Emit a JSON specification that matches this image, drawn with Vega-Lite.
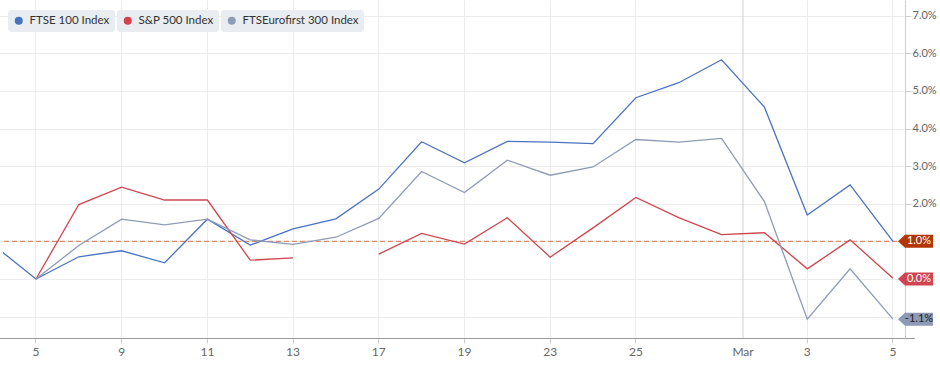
{
  "$schema": "https://vega.github.io/schema/vega-lite/v6.json",
  "autosize": {"type": "none"},
  "padding": {"left": 3, "top": 0, "right": 35, "bottom": 29},
  "width": 902,
  "height": 338,
  "background": "white",
  "config": {
    "view": {"stroke": null},
    "font": "Lato",
    "axis": {"labelFont": "Lato", "labelColor": "#666666"},
    "legend": {"labelFont": "Lato"}
  },
  "datasets": {
    "prices": [
      {"date": "2026-02-04", "series": "FTSE 100 Index", "value": 0.91},
      {"date": "2026-02-05", "series": "FTSE 100 Index", "value": 0.0},
      {"date": "2026-02-06", "series": "FTSE 100 Index", "value": 0.59},
      {"date": "2026-02-09", "series": "FTSE 100 Index", "value": 0.75},
      {"date": "2026-02-10", "series": "FTSE 100 Index", "value": 0.43},
      {"date": "2026-02-11", "series": "FTSE 100 Index", "value": 1.59},
      {"date": "2026-02-12", "series": "FTSE 100 Index", "value": 0.9},
      {"date": "2026-02-13", "series": "FTSE 100 Index", "value": 1.33},
      {"date": "2026-02-16", "series": "FTSE 100 Index", "value": 1.6},
      {"date": "2026-02-17", "series": "FTSE 100 Index", "value": 2.39},
      {"date": "2026-02-18", "series": "FTSE 100 Index", "value": 3.65},
      {"date": "2026-02-19", "series": "FTSE 100 Index", "value": 3.09},
      {"date": "2026-02-20", "series": "FTSE 100 Index", "value": 3.66},
      {"date": "2026-02-23", "series": "FTSE 100 Index", "value": 3.64},
      {"date": "2026-02-24", "series": "FTSE 100 Index", "value": 3.6},
      {"date": "2026-02-25", "series": "FTSE 100 Index", "value": 4.82},
      {"date": "2026-02-26", "series": "FTSE 100 Index", "value": 5.22},
      {"date": "2026-02-27", "series": "FTSE 100 Index", "value": 5.83},
      {"date": "2026-03-02", "series": "FTSE 100 Index", "value": 4.57},
      {"date": "2026-03-03", "series": "FTSE 100 Index", "value": 1.7},
      {"date": "2026-03-04", "series": "FTSE 100 Index", "value": 2.5},
      {"date": "2026-03-05", "series": "FTSE 100 Index", "value": 1.0},
      {"date": "2026-02-05", "series": "S&P 500 Index", "value": 0.0},
      {"date": "2026-02-06", "series": "S&P 500 Index", "value": 1.98},
      {"date": "2026-02-09", "series": "S&P 500 Index", "value": 2.44},
      {"date": "2026-02-10", "series": "S&P 500 Index", "value": 2.1},
      {"date": "2026-02-11", "series": "S&P 500 Index", "value": 2.1},
      {"date": "2026-02-12", "series": "S&P 500 Index", "value": 0.5},
      {"date": "2026-02-13", "series": "S&P 500 Index", "value": 0.56},
      {"date": "2026-02-16", "series": "S&P 500 Index", "value": null},
      {"date": "2026-02-17", "series": "S&P 500 Index", "value": 0.66},
      {"date": "2026-02-18", "series": "S&P 500 Index", "value": 1.21},
      {"date": "2026-02-19", "series": "S&P 500 Index", "value": 0.93},
      {"date": "2026-02-20", "series": "S&P 500 Index", "value": 1.63},
      {"date": "2026-02-23", "series": "S&P 500 Index", "value": 0.58},
      {"date": "2026-02-24", "series": "S&P 500 Index", "value": 1.36},
      {"date": "2026-02-25", "series": "S&P 500 Index", "value": 2.17},
      {"date": "2026-02-26", "series": "S&P 500 Index", "value": 1.63},
      {"date": "2026-02-27", "series": "S&P 500 Index", "value": 1.18},
      {"date": "2026-03-02", "series": "S&P 500 Index", "value": 1.23},
      {"date": "2026-03-03", "series": "S&P 500 Index", "value": 0.27},
      {"date": "2026-03-04", "series": "S&P 500 Index", "value": 1.04},
      {"date": "2026-03-05", "series": "S&P 500 Index", "value": 0.02},
      {"date": "2026-02-05", "series": "FTSEurofirst 300 Index", "value": 0.0},
      {"date": "2026-02-06", "series": "FTSEurofirst 300 Index", "value": 0.89},
      {"date": "2026-02-09", "series": "FTSEurofirst 300 Index", "value": 1.59},
      {"date": "2026-02-10", "series": "FTSEurofirst 300 Index", "value": 1.44},
      {"date": "2026-02-11", "series": "FTSEurofirst 300 Index", "value": 1.59},
      {"date": "2026-02-12", "series": "FTSEurofirst 300 Index", "value": 1.04},
      {"date": "2026-02-13", "series": "FTSEurofirst 300 Index", "value": 0.92},
      {"date": "2026-02-16", "series": "FTSEurofirst 300 Index", "value": 1.11},
      {"date": "2026-02-17", "series": "FTSEurofirst 300 Index", "value": 1.61},
      {"date": "2026-02-18", "series": "FTSEurofirst 300 Index", "value": 2.86},
      {"date": "2026-02-19", "series": "FTSEurofirst 300 Index", "value": 2.3},
      {"date": "2026-02-20", "series": "FTSEurofirst 300 Index", "value": 3.16},
      {"date": "2026-02-23", "series": "FTSEurofirst 300 Index", "value": 2.76},
      {"date": "2026-02-24", "series": "FTSEurofirst 300 Index", "value": 2.98},
      {"date": "2026-02-25", "series": "FTSEurofirst 300 Index", "value": 3.71},
      {"date": "2026-02-26", "series": "FTSEurofirst 300 Index", "value": 3.64},
      {"date": "2026-02-27", "series": "FTSEurofirst 300 Index", "value": 3.74},
      {"date": "2026-03-02", "series": "FTSEurofirst 300 Index", "value": 2.06},
      {"date": "2026-03-03", "series": "FTSEurofirst 300 Index", "value": -1.07},
      {"date": "2026-03-04", "series": "FTSEurofirst 300 Index", "value": 0.27},
      {"date": "2026-03-05", "series": "FTSEurofirst 300 Index", "value": -1.07}
    ],
    "flags": [
      {"date": "2026-03-05", "series": "FTSE 100 Index", "value": 1.0, "label": "1.0%"},
      {"date": "2026-03-05", "series": "S&P 500 Index", "value": 0.0, "label": "0.0%"},
      {"date": "2026-03-05", "series": "FTSEurofirst 300 Index", "value": -1.07, "label": "-1.1%"}
    ],
    "month": [
      {"date": "2026-03-02", "label": "Mar"}
    ]
  },
  "encoding": {
    "x": {
      "field": "date",
      "type": "ordinal",
      "scale": {
        "type": "band",
        "domain": ["2026-02-04","2026-02-05","2026-02-06","2026-02-09","2026-02-10","2026-02-11","2026-02-12","2026-02-13","2026-02-16","2026-02-17","2026-02-18","2026-02-19","2026-02-20","2026-02-23","2026-02-24","2026-02-25","2026-02-26","2026-02-27","2026-03-02","2026-03-03","2026-03-04","2026-03-05"],
        "range": [-31.3, 911.4],
        "paddingInner": 0,
        "paddingOuter": 0
      },
      "axis": {
        "title": null,
        "values": ["2026-02-05","2026-02-09","2026-02-11","2026-02-13","2026-02-17","2026-02-19","2026-02-23","2026-02-25","2026-03-02","2026-03-03","2026-03-05"],
        "labelExpr": "datum.value == '2026-03-02' ? 'Mar' : '' + toNumber(slice(datum.value, 8))",
        "labelOffset": {"condition": {"test": "datum.value == '2026-03-02'", "value": -21.4}, "value": 0},
        "bandPosition": 0.5,
        "labelAngle": 0,
        "labelFontSize": 12,
        "labelPadding": 3,
        "tickSize": 5,
        "tickColor": "#cccccc",
        "tickOpacity": {"condition": {"test": "datum.value == '2026-03-02'", "value": 0}, "value": 1},
        "domainColor": "#999999",
        "grid": true,
        "gridColor": "#ececec",
        "gridOpacity": {"condition": {"test": "datum.value == '2026-03-02'", "value": 0}, "value": 1},
        "gridWidth": 1
      }
    },
    "y": {
      "field": "value",
      "type": "quantitative",
      "scale": {"domain": [-1.57, 7.42], "nice": false, "zero": false},
      "axis": {
        "title": null,
        "orient": "right",
        "values": [-1, 0, 1, 2, 3, 4, 5, 6, 7],
        "labelExpr": "datum.value <= 1 ? '' : format(datum.value, '.1f') + '%'",
        "labelFontSize": 11,
        "labelPadding": 2,
        "tickSize": 5,
        "tickColor": "#cccccc",
        "domainColor": "#cccccc",
        "grid": true,
        "gridColor": "#ececec",
        "gridWidth": 1
      }
    }
  },
  "layer": [
    {
      "data": {"name": "month"},
      "mark": {"type": "rule", "color": "#cfcfcf", "strokeWidth": 1},
      "encoding": {
        "x": {"field": "date", "type": "ordinal", "bandPosition": 0},
        "y": null
      }
    },
    {
      "data": {"values": [{"value": 1.0}]},
      "mark": {"type": "rule", "color": "#e08a6c", "strokeDash": [5, 3], "strokeWidth": 1.2},
      "encoding": {
        "x": null,
        "y": {"field": "value", "type": "quantitative"}
      }
    },
    {
      "data": {"name": "prices"},
      "transform": [{"filter": "datum.series == 'FTSE 100 Index'"}],
      "mark": {"type": "line", "strokeWidth": 1.3, "clip": true},
      "encoding": {
        "color": {
          "field": "series", "type": "nominal",
          "scale": {"domain": ["FTSE 100 Index"], "range": ["#4a73c2"]},
          "legend": {"orient": "none", "legendX": 5, "legendY": 10, "title": null, "symbolType": "circle", "symbolSize": 64, "symbolFillColor": "#4472c4", "symbolStrokeWidth": 0, "labelFontSize": 11.5, "labelLimit": 300, "labelColor": "#333333", "fillColor": "#e9ecf0", "cornerRadius": 3, "padding": 5, "labelOffset": 5}
        }
      }
    },
    {
      "data": {"name": "prices"},
      "transform": [{"filter": "datum.series == 'S&P 500 Index'"}],
      "mark": {"type": "line", "strokeWidth": 1.3, "clip": true},
      "encoding": {
        "color": {
          "field": "series", "type": "nominal",
          "scale": {"domain": ["S&P 500 Index"], "range": ["#d0454f"]},
          "legend": {"orient": "none", "legendX": 114, "legendY": 10, "title": null, "symbolType": "circle", "symbolSize": 64, "symbolFillColor": "#d3434f", "symbolStrokeWidth": 0, "labelFontSize": 11.5, "labelLimit": 300, "labelColor": "#333333", "fillColor": "#e9ecf0", "cornerRadius": 3, "padding": 5, "labelOffset": 5}
        }
      }
    },
    {
      "data": {"name": "prices"},
      "transform": [{"filter": "datum.series == 'FTSEurofirst 300 Index'"}],
      "mark": {"type": "line", "strokeWidth": 1.3, "clip": true},
      "encoding": {
        "color": {
          "field": "series", "type": "nominal",
          "scale": {"domain": ["FTSEurofirst 300 Index"], "range": ["#8e9bb6"]},
          "legend": {"orient": "none", "legendX": 218, "legendY": 10, "title": null, "symbolType": "circle", "symbolSize": 64, "symbolFillColor": "#8f9cb6", "symbolStrokeWidth": 0, "labelFontSize": 11.5, "labelLimit": 300, "labelColor": "#333333", "fillColor": "#e9ecf0", "cornerRadius": 3, "padding": 5, "labelOffset": 5}
        }
      }
    },
    {
      "data": {"name": "flags"},
      "mark": {"type": "point", "shape": "M 0.5 0 L 1.2 -0.65 L 4.0 -0.65 L 4.0 0.65 L 1.2 0.65 Z", "size": 400, "filled": true, "opacity": 1, "strokeWidth": 0},
      "encoding": {
        "fill": {
          "field": "series", "type": "nominal",
          "scale": {"domain": ["FTSE 100 Index", "S&P 500 Index", "FTSEurofirst 300 Index"], "range": ["#b33600", "#cf4450", "#8c9ab5"]},
          "legend": null
        }
      }
    },
    {
      "data": {"name": "flags"},
      "mark": {"type": "text", "dx": 26, "align": "center", "baseline": "middle", "fontSize": 11, "font": "Lato"},
      "encoding": {
        "text": {"field": "label"},
        "color": {"condition": {"test": "datum.value < -0.5", "value": "#222222"}, "value": "#ffffff"}
      }
    }
  ],
  "resolve": {"scale": {"color": "independent"}}
}
